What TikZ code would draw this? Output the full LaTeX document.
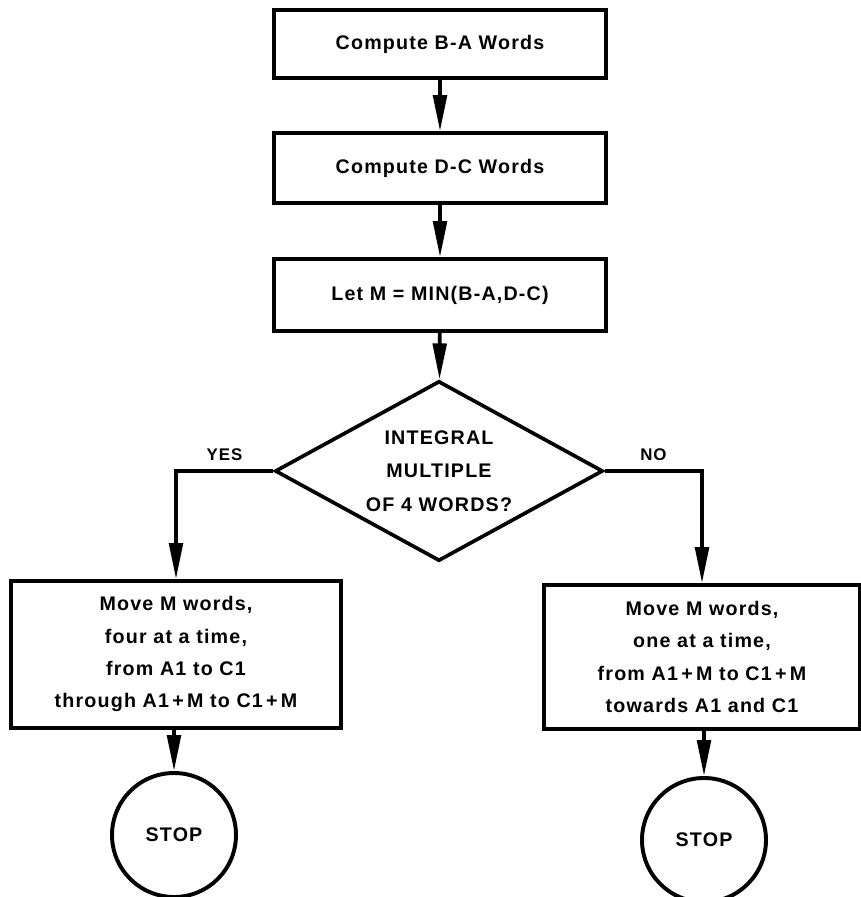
\documentclass[tikz,border=0pt]{standalone}
\usepackage{fontspec}
\setmainfont{Liberation Sans}[LetterSpace=6]
\usetikzlibrary{shapes.geometric,arrows.meta}

\begin{document}
\begin{tikzpicture}[every node/.style={font=\fontsize{14}{23}\selectfont\bfseries},
  proc/.style={draw,line width=2.6pt,align=center,minimum width=8.3cm,minimum height=1.7cm},
  decide/.style={draw,diamond,aspect=1.9,line width=2.6pt,align=center,inner sep=0pt,minimum width=8.2cm,minimum height=4.5cm},
  halt/.style={draw,circle,line width=2.8pt,minimum size=3.1cm},
  flow/.style={line width=2.6pt,-{Triangle[length=0.9cm,width=0.34cm]}},
  answer/.style={font=\fontsize{12}{14}\selectfont\bfseries,above=0.1cm}]
\useasboundingbox (0,0) rectangle (21.5,-22.425);
\node[proc] (BA) at (11,-1.1) {Compute B-A Words};
\node[proc,minimum height=1.75cm] (DC) at (11,-4.2) {Compute D-C Words};
\node[proc,minimum height=1.8cm] (MinM) at (11,-7.375) {Let M = MIN(B-A,D-C)};
\node[decide,font=\fontsize{14}{24}\selectfont\bfseries] (Q) at (10.975,-11.775)
  {INTEGRAL\\MULTIPLE\\OF 4 WORDS?};
\node[proc,minimum width=8.25cm,minimum height=3.675cm] (Four) at (4.4,-16.36)
  {Move M words,\\four at a time,\\from A1 to C1\\through A1\,+\,M to C1\,+\,M};
\node[proc,minimum width=7.9cm,minimum height=3.6cm] (One) at (17.55,-16.425)
  {Move M words,\\one at a time,\\from A1\,+\,M to C1\,+\,M\\towards A1 and C1};
\node[halt] (StopL) at (4.35,-20.875) {STOP};
\node[halt] (StopR) at (17.6,-21) {STOP};
\draw[flow] (BA) -- (DC);
\draw[flow] (DC) -- (MinM);
\draw[flow] (MinM) -- (Q);
\draw[flow] (Q.west) -| node[answer,pos=0.25] {YES} (Four.north);
\draw[flow] (Q.east) -| node[answer,pos=0.25] {NO} (One.north);
\draw[flow] (Four.south -| StopL) -- (StopL);
\draw[flow] (One.south -| StopR) -- (StopR);
\end{tikzpicture}
\end{document}
